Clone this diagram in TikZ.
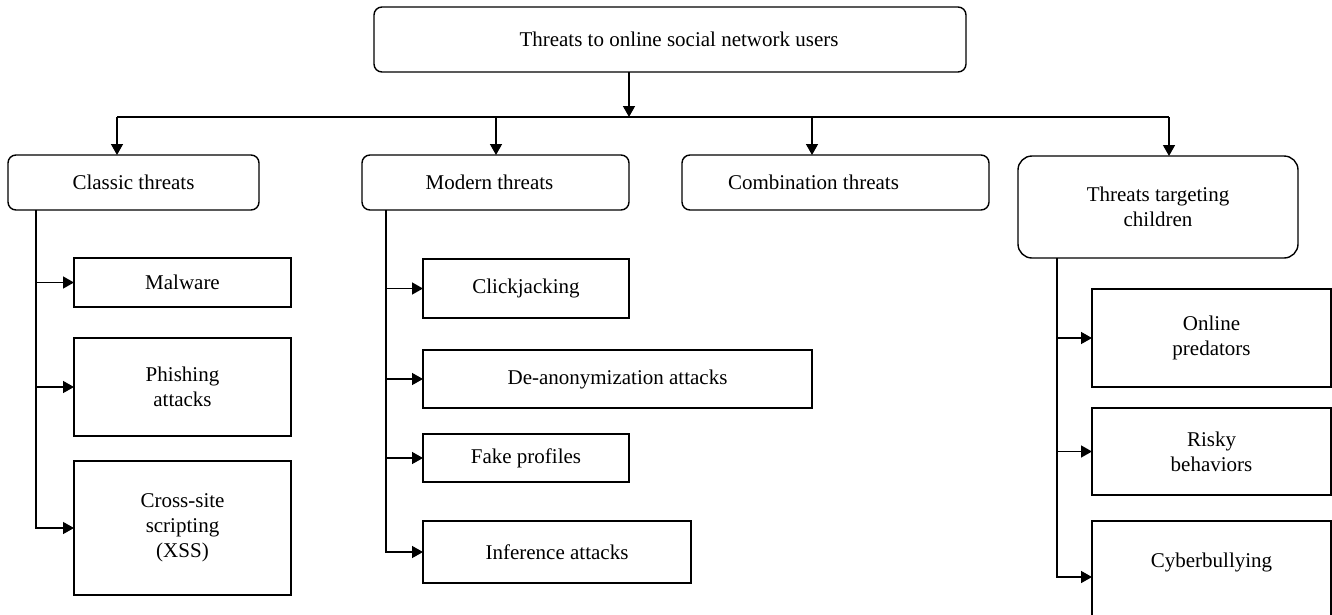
\documentclass[tikz,border=0pt]{standalone}
\usepackage{fontspec}
\setmainfont{Liberation Serif}
\usetikzlibrary{arrows.meta}
\begin{document}
\begin{tikzpicture}[x=1pt,y=-1pt,
  every node/.style={font=\fontsize{21}{25}\selectfont, inner sep=0pt, outer sep=0pt, align=center},
  rbox/.style={draw, line width=1.4pt, rounded corners=8pt},
  sbox/.style={draw, line width=1.4pt},
  link/.style={line width=1.4pt, line join=miter, -{Triangle[length=11pt,width=12pt]}},
  busline/.style={line width=1.4pt}]
\useasboundingbox (0,0) rectangle (1332,614);

% root and first level
\node[rbox, minimum width=592, minimum height=65] (root) at (670,39.5)
  {\hspace*{18pt}Threats to online social network users};
\node[rbox, minimum width=251, minimum height=55] (classic) at (133.5,182.5) {Classic threats};
\node[rbox, minimum width=267, minimum height=55] (modern) at (495.5,182.5) {Modern threats\hspace*{12pt}};
\node[rbox, minimum width=307, minimum height=55] (combo) at (835.5,182.5) {Combination threats\hspace*{44pt}};
\node[rbox, rounded corners=14pt, minimum width=280, minimum height=102] (child) at (1158,207)
  {Threats targeting\\children};

% classic threats
\node[sbox, minimum width=217, minimum height=49] (malware) at (182.5,282.5) {Malware};
\node[sbox, minimum width=217, minimum height=98] (phish) at (182.5,387) {Phishing\\attacks};
\node[sbox, minimum width=217, minimum height=134] (xss) at (182.5,528) {Cross-site\\scripting\\(XSS)};

% modern threats
\node[sbox, minimum width=206, minimum height=59] (click) at (526,288.5) {Clickjacking};
\node[sbox, minimum width=389, minimum height=58] (deanon) at (617.5,379) {De-anonymization attacks};
\node[sbox, minimum width=206, minimum height=48] (fake) at (526,458) {Fake profiles};
\node[sbox, minimum width=268, minimum height=62] (infer) at (557,552) {Inference attacks};

% threats targeting children
\node[sbox, minimum width=239, minimum height=98] (online) at (1211.5,338) {Online\\predators};
\node[sbox, minimum width=239, minimum height=87] (risky) at (1211.5,451.5) {Risky\\behaviors};
\node[sbox, minimum width=239, minimum height=112] (cyber) at (1211.5,577) {};
\node (cybertext) at (1211.5,562) {Cyberbullying};

% bus from the root
\coordinate (j0) at (629,117);
\coordinate (j1) at (117,117);
\coordinate (j2) at (496,117);
\coordinate (j3) at (812,117);
\coordinate (j4) at (1169,117);
\draw[busline] (j1) -- (j4);
\draw[link] (root.south -| j0) -- (j0);
\draw[link] (j1) -- (j1 |- classic.north);
\draw[link] (j2) -- (j2 |- modern.north);
\draw[link] (j3) -- (j3 |- combo.north);
\draw[link] (j4) -- (j4 |- child.north);

% classic branch
\coordinate (cx) at (36,0);
\draw[link] (classic.south -| cx) |- (xss.west);
\draw[link] (cx |- malware.west) -- (malware.west);
\draw[link] (cx |- phish.west) -- (phish.west);

% modern branch
\coordinate (mx) at (386,0);
\draw[link] (modern.south -| mx) |- (infer.west);
\draw[link] (mx |- click.west) -- (click.west);
\draw[link] (mx |- deanon.west) -- (deanon.west);
\draw[link] (mx |- fake.west) -- (fake.west);

% children branch
\coordinate (kx) at (1057,0);
\draw[link] (child.south -| kx) |- (cyber.west);
\draw[link] (kx |- online.west) -- (online.west);
\draw[link] (kx |- risky.west) -- (risky.west);
\end{tikzpicture}
\end{document}
